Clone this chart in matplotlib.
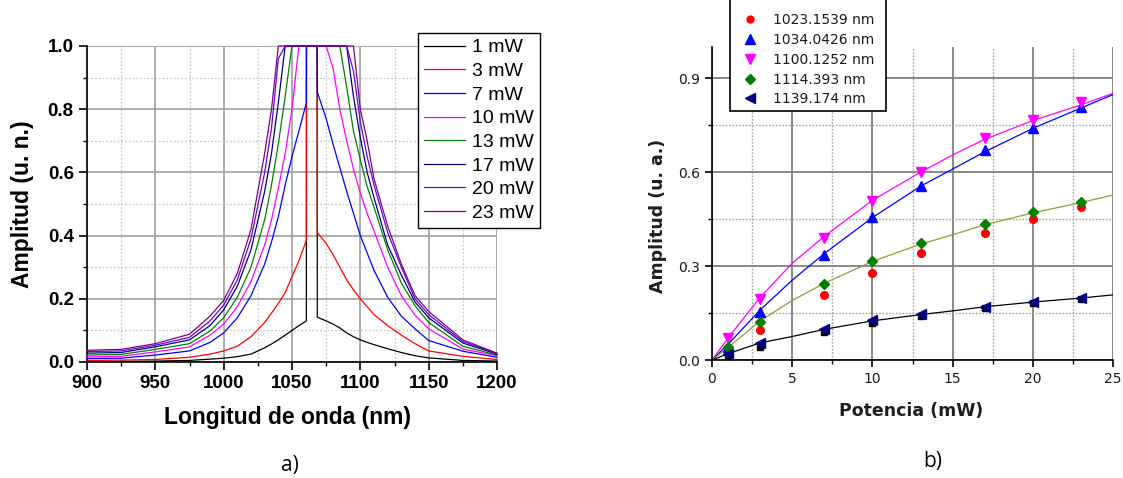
import matplotlib
matplotlib.use("Agg")
import matplotlib.pyplot as plt
from matplotlib.ticker import MultipleLocator, FormatStrFormatter
from matplotlib.patches import Rectangle

# ---- panel a: emission spectra for each pump power ----
wavelength = [900, 925, 950, 975, 990, 1000, 1010, 1020, 1030, 1035, 1040, 1045, 1050, 1055,
              1060.5, 1060.6, 1068.4, 1068.5, 1075, 1080, 1085, 1090, 1095, 1100, 1105, 1110,
              1120, 1130, 1140, 1150, 1175, 1200]

spec_1mw = [.002, .002, .003, .005, .009, .012, .017, .025, .045, .057, .07, .085, .10, .115,
            .13, 1.0, 1.0, .142, .13, .12, .108, .092, .08, .07, .062, .055,
            .042, .03, .02, .013, .005, .003]
spec_3mw = [.005, .006, .008, .015, .025, .035, .05, .08, .125, .155, .185, .22, .27, .32,
            .385, 1.0, 1.0, .41, .375, .34, .30, .26, .228, .20, .175, .15,
            .115, .085, .058, .035, .018, .008]
spec_7mw = [.011, .012, .022, .035, .062, .092, .14, .21, .31, .38, .46, .56, .65, .73,
            .82, 1.0, 1.0, .855, .77, .69, .615, .54, .47, .40, .345, .29,
            .205, .145, .105, .068, .034, .015]
spec_10mw = [.016, .018, .032, .048, .085, .12, .175, .255, .37, .45, .55, .66, .80, 1.0,
             1.0, 1.0, 1.0, 1.0, 1.0, .93, .80, .70, .61, .535, .47, .415,
             .30, .21, .148, .105, .041, .02]
spec_13mw = [.022, .024, .04, .058, .098, .14, .205, .30, .45, .56, .69, .84, 1.0, 1.0,
             1.0, 1.0, 1.0, 1.0, 1.0, 1.0, 1.0, .87, .73, .64, .555, .49,
             .355, .25, .178, .125, .05, .022]
spec_17mw = [.028, .03, .048, .07, .115, .165, .24, .355, .54, .66, .82, 1.0, 1.0, 1.0,
             1.0, 1.0, 1.0, 1.0, 1.0, 1.0, 1.0, 1.0, .84, .71, .60, .52,
             .37, .275, .19, .14, .06, .025]
spec_20mw = [.033, .035, .053, .078, .13, .18, .26, .39, .60, .74, .96, 1.0, 1.0, 1.0,
             1.0, 1.0, 1.0, 1.0, 1.0, 1.0, 1.0, 1.0, .92, .76, .65, .56,
             .41, .30, .20, .15, .065, .027]
spec_23mw = [.037, .04, .058, .088, .145, .195, .28, .42, .66, .80, 1.0, 1.0, 1.0, 1.0,
             1.0, 1.0, 1.0, 1.0, 1.0, 1.0, 1.0, 1.0, 1.0, .80, .70, .58,
             .43, .31, .21, .16, .07, .028]

spectra = [spec_1mw, spec_3mw, spec_7mw, spec_10mw, spec_13mw, spec_17mw, spec_20mw, spec_23mw]
spectra_labels = ["1 mW", "3 mW", "7 mW", "10 mW", "13 mW", "17 mW", "20 mW", "23 mW"]
spectra_colors = ["#000000", "#ff0000", "#0000ff", "#ff00ff", "#008000", "#000080", "#7000e0", "#800080"]

# ---- panel b: amplitude vs pump power ----
power = [1, 3, 7, 10, 13, 17, 20, 23]
amp_1023 = [0.032, 0.096, 0.207, 0.279, 0.341, 0.407, 0.450, 0.488]
amp_1034 = [0.043, 0.154, 0.335, 0.458, 0.556, 0.671, 0.742, 0.807]
amp_1100 = [0.069, 0.195, 0.389, 0.508, 0.601, 0.708, 0.767, 0.823]
amp_1114 = [0.043, 0.121, 0.244, 0.317, 0.373, 0.435, 0.472, 0.505]
amp_1139 = [0.019, 0.053, 0.098, 0.128, 0.147, 0.170, 0.186, 0.199]
amp_hidden = [0.013, 0.040, 0.088, 0.118, 0.140, 0.165, 0.183, 0.196]

fit_power = [0, 1, 3, 5, 7, 10, 13, 15, 17, 20, 23, 25]
fit_1034 = [0, .05, .16, .255, .34, .455, .555, .61, .665, .74, .805, .848]
fit_1100 = [0, .07, .20, .309, .395, .51, .60, .655, .705, .765, .815, .852]
fit_1114 = [0, .04, .125, .19, .245, .315, .37, .40, .432, .47, .503, .527]
fit_1139 = [0, .02, .055, .075, .098, .125, .145, .157, .17, .185, .198, .208]

W, H = 1123, 478
fig = plt.figure(figsize=(W / 100, H / 100), dpi=100)

# ================= panel a =================
ax1 = fig.add_axes([87 / W, 1 - 362 / H, 410 / W, 316 / H])
for vals, lab, col in zip(spectra, spectra_labels, spectra_colors):
    ax1.plot(wavelength, vals, color=col, lw=0.9, label=lab, clip_on=False, zorder=3)

ax1.set_xlim(900, 1200)
ax1.set_ylim(0, 1.0)
ax1.xaxis.set_major_locator(MultipleLocator(50))
ax1.xaxis.set_minor_locator(MultipleLocator(25))
ax1.yaxis.set_major_locator(MultipleLocator(0.2))
ax1.yaxis.set_minor_locator(MultipleLocator(0.1))
ax1.yaxis.set_major_formatter(FormatStrFormatter("%.1f"))
ax1.grid(which="major", color="#a6a6a6", lw=1.3, ls="-")
ax1.grid(which="minor", color="#c8c8c8", lw=0.9, ls=(0, (1.5, 1.5)))
ax1.set_axisbelow(True)
for s in ["top", "right"]:
    ax1.spines[s].set_visible(False)
for s in ["left", "bottom"]:
    ax1.spines[s].set_linewidth(1.2)
ax1.tick_params(which="major", direction="out", length=6, width=1.2)
ax1.tick_params(which="minor", direction="out", length=3, width=1.0)
for lbl in ax1.get_xticklabels() + ax1.get_yticklabels():
    lbl.set_fontfamily("Liberation Sans")
    lbl.set_fontweight("bold")
    lbl.set_fontsize(13.5)
ax1.yaxis.get_major_ticks()[-1].gridline.set_visible(False)

ax1.set_xlabel("Longitud de onda (nm)", fontfamily="Liberation Sans", fontweight="bold", fontsize=16.5)
ax1.set_ylabel("Amplitud (u. n.)", fontfamily="Liberation Sans", fontweight="bold", fontsize=16.5)
ax1.xaxis.set_label_coords(0.49, -0.14)
ax1.yaxis.set_label_coords(-0.13, 0.5)

leg1 = ax1.legend(loc="upper left", bbox_to_anchor=(418 / W, 1 - 33 / H), bbox_transform=fig.transFigure,
                  borderaxespad=0, fancybox=False, edgecolor="black", framealpha=1,
                  prop={"family": "Liberation Sans", "size": 14}, handlelength=2.1,
                  handletextpad=0.4, labelspacing=0.31, borderpad=0.3)
leg1.get_frame().set_linewidth(1.0)

# ================= panel b =================
ax2 = fig.add_axes([712 / W, 1 - 360 / H, 401 / W, 313 / H])
ax2.plot(fit_power, fit_1100, color="#ff00ff", lw=0.9, zorder=2)
ax2.plot(fit_power, fit_1034, color="#0000ff", lw=0.9, zorder=2)
ax2.plot(fit_power, fit_1114, color="#999933", lw=0.9, zorder=2)
ax2.plot(fit_power, fit_1139, color="#000000", lw=0.9, zorder=2)

ax2.plot(power, amp_hidden, ls="none", marker="s", ms=5, color="#000000", zorder=3)
h1 = ax2.plot(power, amp_1023, ls="none", marker="o", ms=5.5, color="#ff0000", zorder=3,
              label="1023.1539 nm")[0]
h2 = ax2.plot(power, amp_1034, ls="none", marker="^", ms=7.5, color="#0000ff", zorder=3,
              label="1034.0426 nm")[0]
h3 = ax2.plot(power, amp_1100, ls="none", marker="v", ms=7.5, color="#ff00ff", zorder=3,
              label="1100.1252 nm")[0]
h4 = ax2.plot(power, amp_1114, ls="none", marker="D", ms=5.5, color="#008000", zorder=3,
              label="1114.393 nm")[0]
h5 = ax2.plot(power, amp_1139, ls="none", marker="<", ms=7.5, color="#000080", zorder=3,
              label="1139.174 nm")[0]

ax2.set_xlim(0, 25)
ax2.set_ylim(0, 1.0)
ax2.xaxis.set_major_locator(MultipleLocator(5))
ax2.xaxis.set_minor_locator(MultipleLocator(2.5))
ax2.yaxis.set_major_locator(MultipleLocator(0.3))
ax2.yaxis.set_minor_locator(MultipleLocator(0.15))
ax2.yaxis.set_major_formatter(FormatStrFormatter("%.1f"))
ax2.grid(which="major", color="#7f7f7f", lw=1.3, ls="-")
ax2.grid(which="minor", color="#a0a0a0", lw=1.0, ls=(0, (1.2, 1.2)))
ax2.set_axisbelow(True)
for s in ["top", "right"]:
    ax2.spines[s].set_visible(False)
for s in ["left", "bottom"]:
    ax2.spines[s].set_linewidth(1.2)
ax2.tick_params(which="major", direction="out", length=5, width=1.2, labelsize=10, labelcolor="#1a1a1a")
ax2.tick_params(which="minor", direction="out", length=3, width=1.0)
ax2.xaxis.get_major_ticks()[-1].gridline.set_visible(False)

ax2.set_xlabel("Potencia (mW)", fontweight="bold", fontsize=12.5, color="#1e1e1e")
ax2.set_ylabel("Amplitud (u. a.)", fontweight="bold", fontsize=12.5, color="#1e1e1e")
ax2.xaxis.set_label_coords(0.496, -0.135)
ax2.yaxis.set_label_coords(-0.112, 0.46)

# legend frame runs off the top edge of the figure
fig.add_artist(Rectangle((730 / W, 1 - 111 / H), 156 / W, 130 / H, transform=fig.transFigure,
                         facecolor="white", edgecolor="black", lw=1.2, zorder=5))
leg2 = fig.legend(handles=[h1, h2, h3, h4, h5], loc="upper left", bbox_to_anchor=(740 / W, 1 - 13 / H),
                  frameon=False, borderaxespad=0, borderpad=0, fontsize=10, handlelength=1.4,
                  handletextpad=1.0, labelspacing=0.42, markerscale=0.9)
leg2.set_zorder(6)
for t in leg2.get_texts():
    t.set_color("#1a1a1a")

# panel captions
fig.text(290 / W, 1 - 465 / H, "a)", ha="center", va="center", fontsize=15, fontfamily="Open Sans")
fig.text(933 / W, 1 - 462 / H, "b)", ha="center", va="center", fontsize=15, fontfamily="Open Sans")

fig.savefig("out.png", dpi=100)
